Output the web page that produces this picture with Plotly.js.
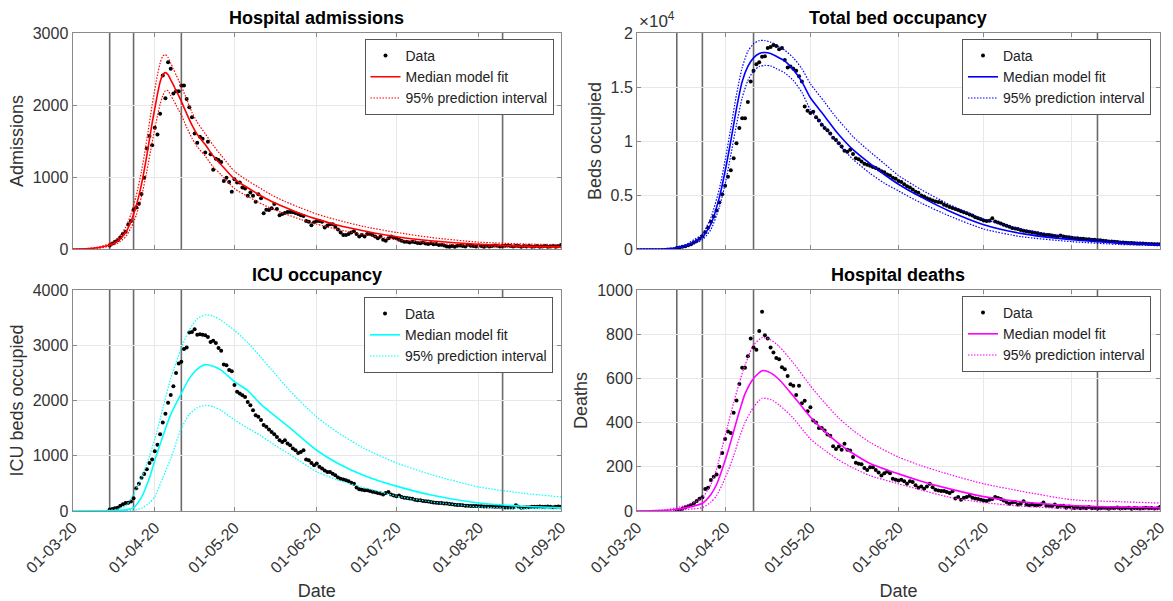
<!DOCTYPE html>
<html>
<head>
<meta charset="utf-8">
<script src="https://cdn.plot.ly/plotly-3.0.1.min.js"></script>
<style>html,body{margin:0;padding:0;background:#fff;}#chart{width:1173px;height:601px;}</style>
</head>
<body>
<div id="chart"></div>
<script>
// ---------------- DATA ----------------
const axisStart = '2020-03-01';
const axisEnd = '2020-09-01';
const eventDates = ['2020-03-15', '2020-03-24', '2020-04-11', '2020-08-10'];
const dataStartDay = 14; // daily observations from 15 March 2020 (day 14 after 1 March)

const admissionsData = [50,75,100,120,160,210,240,340,390,545,
575,630,765,990,1395,1570,1440,1685,1590,1880,
2410,2095,2595,2505,2160,2190,2190,2270,2270,2085,
1970,1830,1605,1475,1560,1530,1340,1490,1315,1100,
1255,1235,1210,945,990,930,795,970,925,925,
855,840,740,785,740,655,760,705,495,545,
540,565,625,555,470,485,500,515,515,510,
500,485,470,460,390,380,330,370,390,390,
380,300,325,345,345,310,270,230,195,195,
210,230,245,210,175,195,175,210,210,195,
175,150,175,130,115,150,175,160,150,130,
115,100,100,90,100,
95,85,80,90,75,70,80,65,70,55,60,50,35,30,40,30,45,50,40,35,
60,45,40,35,50,40,30,45,35,40,50,45,35,40,45,50,40,35,45,40,
30,40,35,45,30,35,40,30,35,40,30,35,45,30,40,55];

const bedsData = [100,150,200,260,350,450,600,750,950,1170,
1540,1970,2520,3020,3570,4310,5080,5850,6700,7300,
8400,9800,11200,12100,12100,13600,15500,16500,17100,17300,
17800,17850,18600,18700,18900,18800,18500,18600,17500,16800,
16900,16700,16500,16000,15500,13200,12800,12600,12700,12200,
11900,11500,11200,11000,10700,10300,10100,9800,9500,9100,
9000,9200,8800,8400,8300,8100,7900,7800,7700,7600,
7500,7350,7200,7100,6900,6800,6600,6500,6300,6200,
6000,5800,5700,5500,5300,5200,4950,4850,4700,4600,
4500,4400,4350,4300,4100,4000,3900,3800,3700,3600,
3500,3400,3300,3200,3100,2950,2850,2750,2650,2600,
2620,2850,2550,2450,2350,2250,2150,2050,1950,1900,
1850,1750,1700,1650,1600,1550,1500,1450,1400,1350,
1300,1300,1250,1200,1150,1250,1150,1100,1080,1050,
1000,1000,950,950,900,900,850,850,800,800,
760,740,700,690,660,640,610,600,580,560,
550,530,520,500,500,480,470,460,450,440,430];

const icuData = [25,35,50,60,95,120,145,150,170,230,
410,495,600,670,755,870,930,1080,1200,1390,
1600,1760,1960,2100,2260,2500,2670,2700,2930,2960,
3230,3240,3290,3190,3200,3190,3180,3150,3060,3080,
3040,2950,2900,2650,2640,2550,2530,2280,2160,2125,
2095,2065,1975,1915,1825,1735,1705,1645,1555,1525,
1475,1430,1390,1340,1280,1250,1280,1220,1190,1130,
1100,1050,1070,1100,930,920,870,830,860,800,
770,735,705,705,675,645,605,585,570,555,
540,510,495,425,395,385,375,375,360,350,
340,325,315,300,325,345,300,280,265,280,
255,240,235,225,220,205,195,195,180,175,
170,165,155,150,145,145,135,135,125,120,
115,110,110,105,95,95,90,90,90,85,
85,80,80,80,80,75,75,75,75,65,
65,65,65,105,75,60,65,70,70,75,
75,75,80,75,75,80,75,70,75,80,75];

const deathsData = [3,5,10,17,22,27,35,45,55,62,
100,105,140,155,165,200,262,326,360,353,
445,500,575,648,648,700,780,740,730,815,
902,795,780,740,717,692,687,650,641,611,
573,567,525,567,487,499,451,469,409,400,
376,376,364,346,341,293,281,292,277,304,
277,274,244,218,214,211,195,186,198,198,
186,174,161,171,179,171,146,141,138,141,
135,123,135,131,116,105,111,101,111,123,
108,96,93,90,90,86,81,89,56,63,
51,60,63,69,60,56,54,51,48,45,
51,54,63,59,54,48,41,33,38,41,
29,33,44,29,26,29,26,27,29,38,
24,24,21,29,18,24,24,15,
20,15,14,16,12,15,13,18,12,14,11,13,15,12,10,14,12,16,11,13,
12,15,10,14,12,11,13,15,12,14,11,13,18];

// model fits (days after 1 March 2020)
const admModelDays = [0,5,10,14,17,20,22,24,26,28,30,32,33,34,35,36,37,38,39,40,41,43,45,47,50,53,56,61,66,70,75,80,86,92,100,110,122,135,153,170,184];
const admMedian = [0,3,20,55,110,230,380,600,900,1300,1750,2150,2320,2420,2450,2420,2350,2280,2200,2130,2050,1880,1720,1590,1450,1290,1170,970,850,760,660,580,490,415,330,250,170,115,65,40,30];
const admUpper  = [0,5,30,75,150,300,480,740,1080,1520,2000,2420,2580,2680,2700,2660,2580,2500,2420,2340,2260,2080,1900,1760,1600,1440,1300,1080,950,860,750,660,570,485,400,310,230,160,95,70,60];
const admLower  = [0,2,12,40,80,170,290,470,730,1080,1480,1850,2010,2130,2200,2200,2130,2070,2000,1930,1860,1690,1540,1420,1290,1140,1030,840,730,650,560,490,410,345,270,200,130,85,40,25,18];

const bedModelDays = [0,5,10,14,17,20,23,26,29,31,33,35,37,39,41,43,45,47,49,52,55,58,61,66,70,73,76,82,87,92,100,110,122,135,153,170,184];
const bedMedian = [0,5,30,110,300,650,1100,2300,4800,7200,10000,13000,15500,16900,17700,18100,18200,18100,17850,17400,16600,15500,14000,12300,10900,10000,9200,7900,6900,6000,4800,3500,2250,1450,860,560,400];
const bedUpper  = [0,8,45,160,400,850,1400,2900,5600,8200,11200,14300,16800,18300,19000,19300,19300,19150,18900,18400,17700,16700,15300,13600,12200,11300,10400,9000,7900,6800,5500,4100,2770,1850,1080,700,520];
const bedLower  = [0,3,20,70,200,480,850,1800,3900,6000,8700,11500,14000,15600,16500,16900,17000,16950,16700,16300,15600,14500,12900,11300,10000,9100,8300,7000,6100,5380,4250,3050,1850,1150,680,420,310];

const icuModelDays = [0,10,14,17,20,23,26,29,31,34,37,41,44,47,50,53,56,61,66,71,76,82,92,100,110,122,135,153,170,184];
const icuMedian = [0,2,5,10,20,60,250,600,920,1350,1750,2130,2400,2570,2650,2620,2550,2340,2180,1930,1730,1500,1100,860,640,450,290,145,85,60];
const icuUpper  = [0,5,15,35,90,300,600,1000,1300,1850,2400,2950,3280,3480,3550,3530,3450,3270,3050,2780,2500,2170,1700,1420,1130,870,660,435,320,255];
const icuLower  = [0,1,2,4,8,15,50,150,260,600,950,1500,1750,1870,1910,1890,1820,1650,1500,1360,1200,1020,710,560,420,270,165,75,45,35];

const deathModelDays = [0,10,14,17,20,23,26,28,30,32,34,36,38,41,44,47,50,55,61,66,71,76,82,92,100,110,122,135,153,170,184];
const deathMedian = [0,3,8,14,22,35,75,120,190,270,360,450,530,600,635,625,595,520,425,360,305,260,215,168,135,100,65,42,25,18,15];
const deathUpper  = [0,6,15,25,38,60,120,190,290,390,490,580,660,750,785,775,745,670,567,490,420,365,310,244,205,165,123,90,51,42,36];
const deathLower  = [0,1,3,6,10,15,40,70,120,180,250,330,400,470,510,505,480,420,326,275,230,195,160,123,95,62,38,22,10,7,6];

const panelTitles = ['Hospital admissions', 'Total bed occupancy', 'ICU occupancy', 'Hospital deaths'];
const yTitles = ['Admissions', 'Beds occupied', 'ICU beds occupied', 'Deaths'];
const legendNames = ['Data', 'Median model fit', '95% prediction interval'];
const bedTickVals = [0, 5000, 10000, 15000, 20000];
const bedTickText = ['0', '0.5', '1', '1.5', '2'];

// ---------------- BUILD ----------------
const DAY0 = Date.UTC(2020, 2, 1);
function dayToDate(d) { return new Date(DAY0 + d * 86400000).toISOString().slice(0, 10); }

const FONT = '"Liberation Sans", Arial, Helvetica, sans-serif';
const panels = [
  {data: admissionsData, md: admModelDays, med: admMedian, up: admUpper, lo: admLower, color: '#ff0000'},
  {data: bedsData, md: bedModelDays, med: bedMedian, up: bedUpper, lo: bedLower, color: '#0000ff'},
  {data: icuData, md: icuModelDays, med: icuMedian, up: icuUpper, lo: icuLower, color: '#00ffff'},
  {data: deathsData, md: deathModelDays, med: deathMedian, up: deathUpper, lo: deathLower, color: '#ff00ff'}
];

const traces = [];
panels.forEach((p, k) => {
  const n = k + 1;
  const xa = n === 1 ? 'x' : 'x' + n;
  const ya = n === 1 ? 'y' : 'y' + n;
  const lg = n === 1 ? 'legend' : 'legend' + n;
  const dDates = p.data.map((_, i) => dayToDate(dataStartDay + i));
  const mDates = p.md.map(dayToDate);
  traces.push({x: dDates, y: p.data, xaxis: xa, yaxis: ya, legend: lg, name: legendNames[0], type: 'scatter', mode: 'markers',
    marker: {color: '#000', size: 4}});
  traces.push({x: mDates, y: p.med, xaxis: xa, yaxis: ya, legend: lg, name: legendNames[1], type: 'scatter', mode: 'lines',
    line: {color: p.color, width: 1.6, shape: 'spline', smoothing: 0.6}});
  traces.push({x: mDates, y: p.up, xaxis: xa, yaxis: ya, legend: lg, name: legendNames[2], type: 'scatter', mode: 'lines',
    line: {color: p.color, width: 1.2, dash: '1.5px,1.5px', shape: 'spline', smoothing: 0.6}});
  traces.push({x: mDates, y: p.lo, xaxis: xa, yaxis: ya, legend: lg, name: legendNames[2], showlegend: false, type: 'scatter', mode: 'lines',
    line: {color: p.color, width: 1.2, dash: '1.5px,1.5px', shape: 'spline', smoothing: 0.6}});
});

const W = 1173, H = 601;
const xdomL = [72.5 / W, 561 / W];
const xdomR = [637 / W, 1160 / W];
const ydomT = [(H - 249) / H, (H - 33) / H];
const ydomB = [(H - 511) / H, (H - 290) / H];

function xAxis(dom, anchor, labels) {
  const a = {domain: dom, anchor: anchor, type: 'date', range: [axisStart, axisEnd], tick0: axisStart, dtick: 'M1',
    tickformat: '%d-%m-%y', showticklabels: labels, tickangle: -45, showgrid: true, gridcolor: '#e8e8e8', gridwidth: 1,
    showline: true, linecolor: '#8a8a8a', linewidth: 1, mirror: 'ticks', ticks: 'inside', ticklen: 4, tickcolor: '#8a8a8a',
    zeroline: false, tickfont: {family: FONT, size: 16, color: '#333'}, fixedrange: true};
  if (labels) a.title = {text: 'Date', font: {family: FONT, size: 18, color: '#333'}, standoff: 10};
  return a;
}
function yAxis(dom, anchor, range, title, extra) {
  return Object.assign({domain: dom, anchor: anchor, range: range, showgrid: true, gridcolor: '#e8e8e8', gridwidth: 1,
    showline: true, linecolor: '#8a8a8a', linewidth: 1, mirror: 'ticks', ticks: 'inside', ticklen: 4, tickcolor: '#8a8a8a',
    zeroline: false, tickfont: {family: FONT, size: 16, color: '#333'},
    title: {text: title, font: {family: FONT, size: 18, color: '#333'}, standoff: 4}, fixedrange: true}, extra || {});
}

const shapes = [];
const xRefs = ['x', 'x2', 'x3', 'x4'];
const yRefs = ['y', 'y2', 'y3', 'y4'];
const yRanges = [[0, 3000], [0, 20000], [0, 4000], [0, 1000]];
xRefs.forEach((xa, k) => {
  eventDates.forEach(d => shapes.push({type: 'line', xref: xa, yref: yRefs[k], x0: d, x1: d, y0: yRanges[k][0], y1: yRanges[k][1],
    line: {color: '#6a6a6a', width: 1.6}, layer: 'below'}));
});

const annotations = [];
panelTitles.forEach((t, k) => annotations.push({xref: 'paper', yref: 'paper',
  x: (k % 2 === 0 ? (xdomL[0] + xdomL[1]) / 2 : (xdomR[0] + xdomR[1]) / 2),
  y: (k < 2 ? ydomT[1] : ydomB[1]), xanchor: 'center', yanchor: 'bottom',
  yshift: 3, showarrow: false, text: '<b>' + t + '</b>', font: {family: FONT, size: 18, color: '#000'}}));
annotations.push({xref: 'paper', yref: 'paper', x: xdomR[0], y: ydomT[1], xanchor: 'left', yanchor: 'bottom', yshift: 0, showarrow: false,
  text: '\u00d710<sup>4</sup>', font: {family: FONT, size: 17, color: '#333'}});

function legend(xr, yt) {
  return {x: xr / W, y: (H - yt) / H, xanchor: 'right', yanchor: 'top', bgcolor: '#fff', bordercolor: '#555', borderwidth: 1,
    font: {family: FONT, size: 14, color: '#222'}, itemwidth: 30, tracegroupgap: 0};
}

const layout = {
  width: W, height: H, autosize: false, margin: {l: 0, r: 0, t: 0, b: 0}, paper_bgcolor: '#fff', plot_bgcolor: '#fff',
  font: {family: FONT},
  showlegend: true,
  xaxis: xAxis(xdomL, 'y', false),
  xaxis2: xAxis(xdomR, 'y2', false),
  xaxis3: xAxis(xdomL, 'y3', true),
  xaxis4: xAxis(xdomR, 'y4', true),
  yaxis: yAxis(ydomT, 'x', [0, 3000], yTitles[0], {dtick: 1000}),
  yaxis2: yAxis(ydomT, 'x2', [0, 20000], yTitles[1], {tickvals: bedTickVals, ticktext: bedTickText}),
  yaxis3: yAxis(ydomB, 'x3', [0, 4000], yTitles[2], {dtick: 1000}),
  yaxis4: yAxis(ydomB, 'x4', [0, 1000], yTitles[3], {dtick: 200}),
  legend: legend(553.5, 39),
  legend2: legend(1151, 39),
  legend3: legend(553, 297),
  legend4: legend(1151, 296),
  shapes: shapes,
  annotations: annotations
};

Plotly.newPlot('chart', traces, layout, {staticPlot: true, displayModeBar: false});
</script>
</body>
</html>
